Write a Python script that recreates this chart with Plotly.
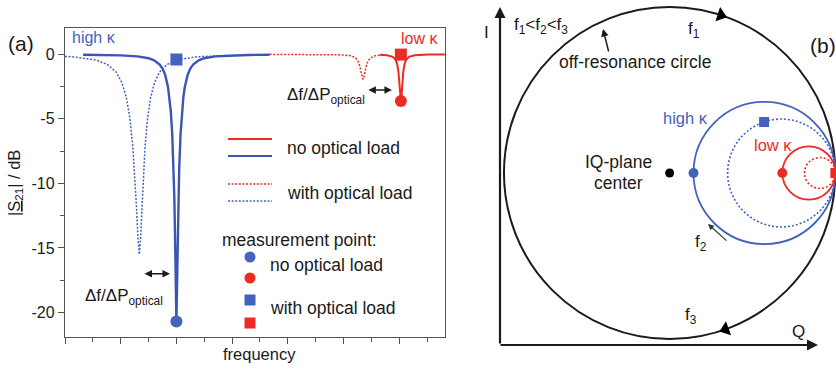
import plotly.graph_objects as go

W, H = 836, 369
FONT = "Liberation Sans, Arial, sans-serif"
BLUE = "#4363bf"
BLUE_D = "#3a56b4"
RED = "#ec2b25"
INK = "#1a1a1a"

# ---------------- panel (a) data: |S21| in dB vs. frequency (arb. units) ----------------
blue_solid_x = [0.65, 1.4, 2.0, 2.6, 3.0, 3.2, 3.4, 3.5, 3.6, 3.7, 3.75, 3.8, 3.85, 3.9, 3.925, 3.95, 3.975,
                4.0, 4.025, 4.05, 4.075, 4.1, 4.15, 4.2, 4.25, 4.3, 4.4, 4.5, 4.6, 4.8, 5.0, 5.4, 6.0, 6.6, 7.35]
blue_solid_y = [-0.03, -0.05, -0.08, -0.16, -0.30, -0.46, -0.79, -1.10, -1.61, -2.55, -3.32, -4.44, -6.15, -8.93,
                -10.99, -13.9, -17.7, -20.7, -17.7, -13.9, -10.99, -8.93, -6.15, -4.44, -3.32, -2.55, -1.61, -1.10,
                -0.79, -0.46, -0.30, -0.16, -0.08, -0.05, -0.03]

blue_dot_x = [0.0, 0.33, 1.11, 1.526, 1.838, 2.046, 2.202, 2.332, 2.436, 2.514, 2.566, 2.618, 2.67, 2.715, 2.76,
              2.805, 2.873, 2.963, 3.075, 3.21, 3.39, 3.66, 4.02, 4.695, 5.82, 7.35]
blue_dot_y = [-0.16, -0.20, -0.44, -0.79, -1.38, -2.21, -3.34, -4.99, -7.17, -9.65, -11.8, -14.2, -15.5, -14.2,
              -11.8, -9.65, -7.17, -4.99, -3.34, -2.21, -1.38, -0.79, -0.44, -0.20, -0.085, -0.04]

red_dot_x = [7.35, 9.26, 9.98, 10.28, 10.436, 10.52, 10.58, 10.628, 10.664, 10.7, 10.736, 10.772, 10.82, 10.88,
             10.964, 11.12, 11.42]
red_dot_y = [-0.003, -0.011, -0.043, -0.12, -0.28, -0.51, -0.87, -1.34, -1.75, -1.95, -1.75, -1.34, -0.87, -0.51,
             -0.28, -0.12, -0.043]

red_solid_x = [11.3, 11.56, 11.77, 11.877, 11.935, 11.977, 12.01, 12.035, 12.06, 12.085, 12.11, 12.143, 12.185,
               12.243, 12.35, 12.56, 13.06, 13.64]
red_solid_y = [-0.029, -0.067, -0.19, -0.44, -0.83, -1.44, -2.33, -3.18, -3.62, -3.18, -2.33, -1.44, -0.83, -0.44,
               -0.19, -0.067, -0.017, -0.007]

# measurement points [high kappa, low kappa]
meas_x = [4.0, 12.06]
meas_no_load_y = [-20.7, -3.62]
meas_load_y = [-0.4, -0.02]

y_tick_vals = [0, -5, -10, -15, -20]
y_tick_text = ["0", "-5", "-10", "-15", "-20"]

# ---------------- panel (b) data: IQ-plane (off-resonance circle radius = 1) ----------------
circle_names = ["off-resonance", "high k, no load", "high k, load", "low k, no load", "low k, load"]
circle_cx = [0.0, 0.572, 0.675, 0.84, 0.907]
circle_r = [1.0, 0.428, 0.325, 0.16, 0.093]
circle_color = [INK, BLUE, BLUE, RED, RED]
circle_dash = ["solid", "solid", "2px,2px", "solid", "2px,2px"]
circle_width = [2.0, 1.8, 1.6, 1.8, 1.6]

iq_center = [0.0, 0.0]
iq_dot_x = [0.144, 0.68]          # no optical load points (high k, low k)
iq_dot_y = [0.0, 0.0]
iq_sq_x = [0.57, 1.0]             # with optical load points
iq_sq_y = [0.307, 0.0]
sweep_arrow_x = [0.309, 0.337]    # direction markers on the off-resonance circle
sweep_arrow_y = [0.951, -0.942]
sweep_arrow_angle = [18, -20]

DOT = "2px,1.6px"

fig = go.Figure()

# panel (a) traces
fig.add_trace(go.Scatter(x=blue_dot_x, y=blue_dot_y, mode="lines",
                         line=dict(color=BLUE, width=1.5, dash=DOT), xaxis="x", yaxis="y"))
fig.add_trace(go.Scatter(x=red_dot_x, y=red_dot_y, mode="lines",
                         line=dict(color=RED, width=1.5, dash=DOT), xaxis="x", yaxis="y"))
fig.add_trace(go.Scatter(x=blue_solid_x, y=blue_solid_y, mode="lines",
                         line=dict(color=BLUE_D, width=2.4), xaxis="x", yaxis="y"))
fig.add_trace(go.Scatter(x=red_solid_x, y=red_solid_y, mode="lines",
                         line=dict(color=RED, width=2.0), xaxis="x", yaxis="y"))
fig.add_trace(go.Scatter(x=meas_x, y=meas_no_load_y, mode="markers",
                         marker=dict(symbol="circle", size=12, color=[BLUE, RED]), xaxis="x", yaxis="y"))
fig.add_trace(go.Scatter(x=meas_x, y=meas_load_y, mode="markers",
                         marker=dict(symbol="square", size=12, color=[BLUE, RED]), xaxis="x", yaxis="y"))

# panel (b) traces
fig.add_trace(go.Scatter(x=[iq_center[0]], y=[iq_center[1]], mode="markers",
                         marker=dict(size=9, color="black"), xaxis="x2", yaxis="y2"))
fig.add_trace(go.Scatter(x=iq_dot_x, y=iq_dot_y, mode="markers",
                         marker=dict(symbol="circle", size=10, color=[BLUE, RED]), xaxis="x2", yaxis="y2"))
fig.add_trace(go.Scatter(x=iq_sq_x, y=iq_sq_y, mode="markers",
                         marker=dict(symbol="square", size=10, color=[BLUE, RED]), xaxis="x2", yaxis="y2"))
fig.add_trace(go.Scatter(x=sweep_arrow_x, y=sweep_arrow_y, mode="markers",
                         marker=dict(symbol=["triangle-right", "triangle-left"], size=13, color="black",
                                     angle=sweep_arrow_angle), xaxis="x2", yaxis="y2"))

shapes = []
for cx, r, c, d, w in zip(circle_cx, circle_r, circle_color, circle_dash, circle_width):
    shapes.append(dict(type="circle", xref="x2", yref="y2", x0=cx - r, x1=cx + r, y0=-r, y1=r,
                       line=dict(color=c, width=w, dash=d), layer="below"))


def P(x, y):
    return x / W, 1 - y / H


# legend swatches (panel a)
for (y, c, d) in [(139, RED, "solid"), (156, BLUE_D, "solid"), (184, RED, DOT), (201, BLUE, DOT)]:
    x0, yy = P(228, y)
    x1, _ = P(272, y)
    shapes.append(dict(type="line", xref="paper", yref="paper", x0=x0, x1=x1, y0=yy, y1=yy,
                       line=dict(color=c, width=2.2 if d == "solid" else 1.5, dash=d)))
for (y, c, kind) in [(257, BLUE, "circle"), (278, RED, "circle"), (300, BLUE, "rect"), (323, RED, "rect")]:
    xa, ya = P(250, y)
    shapes.append(dict(type=kind, xref="paper", yref="paper", xsizemode="pixel", ysizemode="pixel",
                       xanchor=xa, yanchor=ya, x0=-5.5, x1=5.5, y0=-5.5, y1=5.5,
                       fillcolor=c, line=dict(width=0)))

ann = []


def text(x, y, s, size=17, color=INK, xanchor="center", angle=0):
    px_, py_ = P(x, y)
    ann.append(dict(x=px_, y=py_, xref="paper", yref="paper", text=s, showarrow=False,
                    xanchor=xanchor, yanchor="middle", textangle=angle,
                    font=dict(family=FONT, size=size, color=color)))


def arrow(hx, hy, tx, ty, width=1.5, head=2, size=1.0, color=INK):
    px_, py_ = P(hx, hy)
    ann.append(dict(x=px_, y=py_, xref="paper", yref="paper", text="", showarrow=True,
                    ax=tx - hx, ay=ty - hy, arrowhead=head, arrowsize=size, arrowwidth=width,
                    arrowcolor=color, standoff=0, startstandoff=0))


# panel (a) text
text(21, 44, "(a)", size=21)
text(94, 37, "high κ", size=16, color=BLUE)
text(420, 38, "low κ", size=16, color=RED)
text(15, 183, "|<u>S</u><sub>21</sub>| / dB", size=16.5, angle=-90)
text(259, 354, "frequency", size=16.5)
text(285, 96, "Δf/ΔP<sub>optical</sub>", size=17, xanchor="left")
text(83, 297, "Δf/ΔP<sub>optical</sub>", size=17, xanchor="left")
text(285, 148, "no optical load", size=17.5, xanchor="left")
text(285, 193, "with optical load", size=17.5, xanchor="left")
text(220, 240, "measurement point:", size=17.5, xanchor="left")
text(268, 265, "no optical load", size=17.5, xanchor="left")
text(268, 308, "with optical load", size=17.5, xanchor="left")

# double arrows (panel a, data coordinates)
for (xa, xb, yv) in [(2.80, 3.77, -17.0), (10.84, 11.74, -2.77)]:
    ann.append(dict(x=xb, y=yv, ax=xa, ay=yv, xref="x", yref="y", axref="x", ayref="y", text="",
                    showarrow=True, arrowhead=2, arrowside="end+start", arrowsize=1.0, arrowwidth=1.5,
                    arrowcolor=INK, standoff=0, startstandoff=0))

# panel (b) text and arrows
arrow(500, 7, 500, 345, width=2.2, head=2, size=1.0)
arrow(818, 345, 499, 345, width=2.2, head=2, size=1.0)
text(486, 32, "I", size=17)
text(798, 331, "Q", size=17)
text(512, 26, "f<sub>1</sub>&lt;f<sub>2</sub>&lt;f<sub>3</sub>", size=17, xanchor="left")
text(557, 62, "off-resonance circle", size=17.5, xanchor="left")
arrow(603, 29, 609, 53, width=1.5, head=2, size=1.0)
text(694, 30, "f<sub>1</sub>", size=17)
text(618, 162, "IQ-plane", size=17.5)
text(618, 183, "center", size=17.5)
text(685, 118, "high κ", size=16.5, color=BLUE)
text(773, 145, "low κ", size=16.5, color=RED)
text(701, 243, "f<sub>2</sub>", size=17)
arrow(708, 224, 728, 242, width=1.2, head=2, size=1.0, color="#333")
text(691, 316, "f<sub>3</sub>", size=17)
text(808, 45, "(b)", size=21, xanchor="left")

axis_col = "#555555"
fig.update_layout(
    width=W, height=H, margin=dict(l=0, r=0, t=0, b=0),
    paper_bgcolor="white", plot_bgcolor="white", showlegend=False,
    font=dict(family=FONT, color=INK),
    xaxis=dict(domain=[65 / W, 445 / W], range=[0, 13.645], showline=True, mirror=True,
               linecolor=axis_col, linewidth=1.4, ticks="outside", tickcolor=axis_col, tickwidth=1.3,
               ticklen=6, tick0=0, dtick=2, showticklabels=False, showgrid=False, zeroline=False,
               minor=dict(tick0=0, dtick=1, ticks="outside", ticklen=3.5, tickcolor=axis_col, tickwidth=1.3,
                          showgrid=False)),
    yaxis=dict(domain=[32 / H, 341 / H], range=[-21.9, 2.04], showline=True, mirror=True,
               linecolor=axis_col, linewidth=1.4, ticks="outside", tickcolor=axis_col, tickwidth=1.3,
               ticklen=6, tickmode="array", tickvals=y_tick_vals, ticktext=y_tick_text,
               tickfont=dict(family=FONT, size=16, color=INK), showgrid=False, zeroline=False,
               minor=dict(tick0=0, dtick=2.5, ticks="outside", ticklen=3.5, tickcolor=axis_col, tickwidth=1.3,
                          showgrid=False)),
    xaxis2=dict(domain=[480 / W, 1.0], range=[-1.1446, 1.004], visible=False, anchor="y2"),
    yaxis2=dict(domain=[0.0, 1.0], range=[-1.1807, 1.0422], visible=False, anchor="x2"),
    shapes=shapes, annotations=ann,
)

fig.write_html("out.html")
